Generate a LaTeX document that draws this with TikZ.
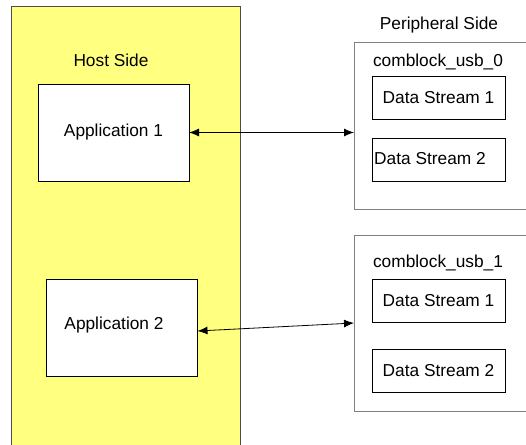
\documentclass[tikz,border=0pt]{standalone}
\usepackage{fontspec}
\setmainfont{Liberation Sans}
\usetikzlibrary{arrows.meta}
\usetikzlibrary{positioning}

\definecolor{hostyellow}{HTML}{FFFF80}
\definecolor{edgegray}{HTML}{808080}

\begin{document}
\begin{tikzpicture}[x=1pt, y=-1pt,
    every node/.style={font=\fontsize{17.3}{20}\selectfont, inner sep=0pt, outer sep=0pt},
    hostbox/.style={rectangle, draw=black!70, fill=hostyellow, line width=0.9pt},
    appbox/.style={rectangle, draw=black, fill=white, line width=0.8pt, minimum width=151pt, minimum height=97pt},
    usbbox/.style={rectangle, draw=edgegray, fill=white, line width=0.9pt, minimum width=186pt},
    streambox/.style={rectangle, draw=black, fill=white, line width=0.8pt, minimum width=133pt, minimum height=43pt},
    link/.style={line width=0.8pt, {Latex[length=10pt,width=8pt]}-{Latex[length=10pt,width=8pt]}}]
      \useasboundingbox (0,0) rectangle (526,444);
      % Host side
      \node[hostbox, minimum width=229pt, minimum height=446pt] (host) at (125.5,229) {};
      \node (hostlabel) at (111,60) {Host Side};
      \node[appbox] (app1) at (113.5,132.5) {Application 1};
      \node[appbox] (app2) at (122,328) {};
      \node (app2label) at (114,325) {Application 2};
      % Peripheral side
      \node (perlabel) at (439,25) {Peripheral Side};
      \node[usbbox, minimum height=167pt] (usb0) at (447,125.5) {};
      \node (usb0label) at (438,62) {comblock\_usb\_0};
      \node[streambox] (s01) at (438.5,98) {Data Stream 1};
      \node[streambox] (s02) at (438.5,159.5) {};
      \node (s02label) at (430,159) {Data Stream 2};
      \node[usbbox, minimum height=176pt] (usb1) at (447,323) {};
      \node (usb1label) at (438,263) {comblock\_usb\_1};
      \node[streambox] (s11) at (438.5,300.5) {Data Stream 1};
      \node[streambox] (s12) at (438.5,370.5) {Data Stream 2};
      % Links
      \draw[link] (app1.east) -- (usb0.west |- app1.east);
      \draw[link] ([yshift=-3pt]app2.east) -- (usb1.west);
\end{tikzpicture}
\end{document}
